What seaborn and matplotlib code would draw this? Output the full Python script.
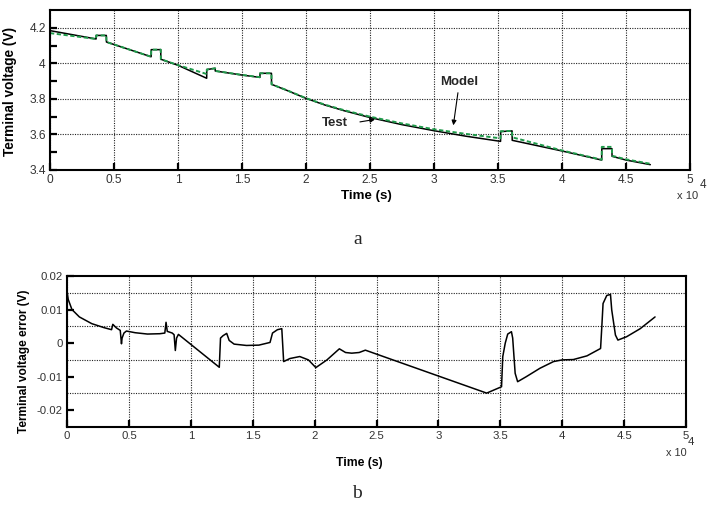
import numpy as np
import pandas as pd
import matplotlib
matplotlib.use("Agg")
import matplotlib.pyplot as plt
from matplotlib.ticker import FixedLocator
import seaborn as sns

# ---- data (time in units of 1e4 s) ----
t_test = [0, 0.36, 0.361, 0.44, 0.441, 0.79, 0.791, 0.865, 0.866, 1.0, 1.224, 1.225, 1.29, 1.291,
          1.5, 1.64, 1.641, 1.73, 1.731, 1.85, 2.0, 2.15, 2.3, 2.5, 2.75, 3.0, 3.25, 3.52, 3.521,
          3.61, 3.611, 4.0, 4.31, 4.311, 4.39, 4.391, 4.5, 4.69]
v_test = [4.184, 4.137, 4.157, 4.157, 4.12, 4.037, 4.077, 4.077, 4.023, 3.989, 3.916, 3.965, 3.972,
          3.957, 3.934, 3.921, 3.944, 3.944, 3.882, 3.848, 3.803, 3.765, 3.733, 3.695, 3.655,
          3.621, 3.59, 3.561, 3.616, 3.62, 3.567, 3.507, 3.456, 3.52, 3.52, 3.477, 3.456, 3.43]

t_model = [0, 0.36, 0.361, 0.44, 0.441, 0.79, 0.791, 0.865, 0.866, 1.0, 1.224, 1.225, 1.29, 1.291,
           1.5, 1.64, 1.641, 1.73, 1.731, 1.85, 2.0, 2.15, 2.3, 2.5, 2.75, 3.0, 3.25, 3.52, 3.521,
           3.61, 3.611, 4.0, 4.31, 4.311, 4.39, 4.391, 4.5, 4.69]
v_model = [4.17, 4.137, 4.157, 4.157, 4.12, 4.037, 4.077, 4.077, 4.023, 3.99, 3.94, 3.965, 3.972,
           3.957, 3.935, 3.922, 3.944, 3.944, 3.882, 3.849, 3.804, 3.767, 3.736, 3.700, 3.662,
           3.629, 3.603, 3.578, 3.618, 3.62, 3.584, 3.510, 3.458, 3.53, 3.53, 3.48, 3.46, 3.435]

t_err = [0, 0.01, 0.04, 0.10, 0.2, 0.3, 0.36, 0.37, 0.40, 0.43, 0.44, 0.445, 0.46, 0.48, 0.55, 0.65,
         0.75, 0.79, 0.80, 0.81, 0.85, 0.865, 0.875, 0.885, 0.90, 1.23, 1.24, 1.26, 1.29, 1.31, 1.35,
         1.45, 1.55, 1.64, 1.66, 1.70, 1.735, 1.75, 1.80, 1.88, 1.95, 2.01, 2.1, 2.2, 2.25, 2.3,
         2.36, 2.41, 3.39, 3.51, 3.52, 3.54, 3.56, 3.59, 3.60, 3.62, 3.64, 3.71, 3.82, 3.93, 4.0,
         4.09, 4.2, 4.31, 4.32, 4.33, 4.36, 4.39, 4.40, 4.43, 4.45, 4.52, 4.63, 4.75]
e_err = [0.0155, 0.013, 0.0100, 0.0078, 0.0058, 0.0046, 0.0040, 0.0056, 0.0045, 0.0038, -0.0002,
         0.0015, 0.0030, 0.0036, 0.0031, 0.0027, 0.0028, 0.0030, 0.0062, 0.0035, 0.0030, 0.0025,
         -0.0022, 0.0015, 0.0026, -0.0072, 0.0015, 0.0022, 0.0029, 0.0008, -0.0003, -0.0007,
         -0.0006, 0.0002, 0.0030, 0.0040, 0.0043, -0.0055, -0.0046, -0.0040, -0.0050, -0.0073,
         -0.0050, -0.0017, -0.0028, -0.0030, -0.0028, -0.0021, -0.0149, -0.0130, -0.0040, 0.0000,
         0.0027, 0.0034, 0.0015, -0.0090, -0.0115, -0.0100, -0.0075, -0.0055, -0.0050, -0.0049,
         -0.0038, -0.0016, 0.0049, 0.0118, 0.0142, 0.0145, 0.0099, 0.0024, 0.0009, 0.0019, 0.0043,
         0.0078]

xticks = [0, 0.5, 1, 1.5, 2, 2.5, 3, 3.5, 4, 4.5, 5]
xticklabels = ["0", "0.5", "1", "1.5", "2", "2.5", "3", "3.5", "4", "4.5", "5"]

sns.set_theme(style="white")
plt.rcParams['font.family'] = ['Liberation Sans', 'DejaVu Sans']

fig = plt.figure(figsize=(7.07, 5.09), dpi=100)
W, H = 707, 509
def rect(l, t, r, b):
    return [l / W, 1 - b / H, (r - l) / W, (b - t) / H]

ax1 = fig.add_axes(rect(50, 10, 690, 170))
ax2 = fig.add_axes(rect(67, 276, 686, 427))

df_test = pd.DataFrame({"t": t_test, "v": v_test})
df_model = pd.DataFrame({"t": t_model, "v": v_model})
df_err = pd.DataFrame({"t": t_err, "e": e_err})

sns.lineplot(data=df_test, x="t", y="v", ax=ax1, sort=False, estimator=None,
             color="black", linewidth=1.1)
sns.lineplot(data=df_model, x="t", y="v", ax=ax1, sort=False, estimator=None,
             color="#1f9a4a", linewidth=1.4, linestyle=(0, (2.2, 1.3)))
sns.lineplot(data=df_err, x="t", y="e", ax=ax2, sort=False, estimator=None,
             color="black", linewidth=1.1)

tick_col = "#333333"
grid_ls = (0, (1, 1.2))
for ax, tfs in ((ax1, 8.6), (ax2, 8.2)):
    ax.set_xlim(0, 5)
    ax.xaxis.set_major_locator(FixedLocator(xticks))
    ax.set_xticklabels(xticklabels)
    for s in ax.spines.values():
        s.set_visible(True)
        s.set_color("black")
        s.set_linewidth(1.5)
    ax.tick_params(axis="both", which="major", direction="in", length=5, width=1.6,
                   color="black", labelsize=tfs, labelcolor=tick_col, pad=3,
                   bottom=True, left=True, top=False, right=False)
    ax.tick_params(axis="both", which="minor", direction="in", length=5, width=1.6,
                   color="black", bottom=False, left=True, top=False, right=False)
    ax.grid(True, which="major", axis="x", linestyle=grid_ls, color="#222222", linewidth=0.8)
    ax.set_xlabel("")
    ax.set_ylabel("")

# top panel
ax1.set_ylim(3.4, 4.3)
ax1.yaxis.set_major_locator(FixedLocator([3.4, 3.6, 3.8, 4.0, 4.2]))
ax1.set_yticklabels(["3.4", "3.6", "3.8", "4", "4.2"])
ax1.yaxis.set_minor_locator(FixedLocator([3.5, 3.7, 3.9, 4.1]))
ax1.grid(True, which="major", axis="y", linestyle=grid_ls, color="#222222", linewidth=0.8)
ax1.set_ylabel("Terminal voltage (V)", fontsize=9.8, fontweight="bold", color="black")
ax1.yaxis.set_label_coords(-0.052, 0.49)
ax1.set_xlabel("Time (s)", fontsize=9.6, fontweight="bold", color="black")
ax1.xaxis.set_label_coords(0.494, -0.125)

ax1.text(3.195, 3.895, "Model", fontsize=9.5, fontweight="bold", ha="center", va="center")
ax1.annotate("", xy=(3.148, 3.636), xytext=(3.19, 3.85),
             arrowprops=dict(arrowstyle="-|>", color="black", lw=0.8, mutation_scale=7))
ax1.text(2.227, 3.664, "Test", fontsize=9.5, fontweight="bold", ha="center", va="center")
ax1.annotate("", xy=(2.56, 3.687), xytext=(2.40, 3.668),
             arrowprops=dict(arrowstyle="-|>", color="black", lw=0.8, mutation_scale=7))

# bottom panel
ax2.set_ylim(-0.025, 0.02)
ax2.yaxis.set_major_locator(FixedLocator([-0.02, -0.01, 0, 0.01, 0.02]))
ax2.set_yticklabels(["-0.02", "-0.01", "0", "0.01", "0.02"])
ax2.yaxis.set_minor_locator(FixedLocator([-0.015, -0.005, 0.005, 0.015]))
ax2.tick_params(axis="y", which="minor", length=0)
ax2.grid(True, which="minor", axis="y", linestyle=grid_ls, color="#222222", linewidth=0.8)
ax2.set_ylabel("Terminal voltage error (V)", fontsize=8.6, fontweight="bold", color="black")
ax2.yaxis.set_label_coords(-0.06, 0.437)
ax2.set_xlabel("Time (s)", fontsize=8.8, fontweight="bold", color="black")
ax2.xaxis.set_label_coords(0.473, -0.2)

# x 10^4 multipliers
fig.text(688 / W, 1 - 196 / H, "x 10", fontsize=8, color=tick_col, ha="center", va="center")
fig.text(703 / W, 1 - 185 / H, "4", fontsize=8.5, color=tick_col, ha="center", va="center")
fig.text(676 / W, 1 - 453 / H, "x 10", fontsize=7.8, color=tick_col, ha="center", va="center")
fig.text(691 / W, 1 - 442 / H, "4", fontsize=8.2, color=tick_col, ha="center", va="center")

# panel letters
fig.text(358 / W, 1 - 240 / H, "a", fontsize=14, family="Liberation Serif", ha="center", va="center")
fig.text(357 / W, 1 - 493 / H, "b", fontsize=14, family="Liberation Serif", ha="center", va="center")

fig.savefig("out.png", dpi=100)
